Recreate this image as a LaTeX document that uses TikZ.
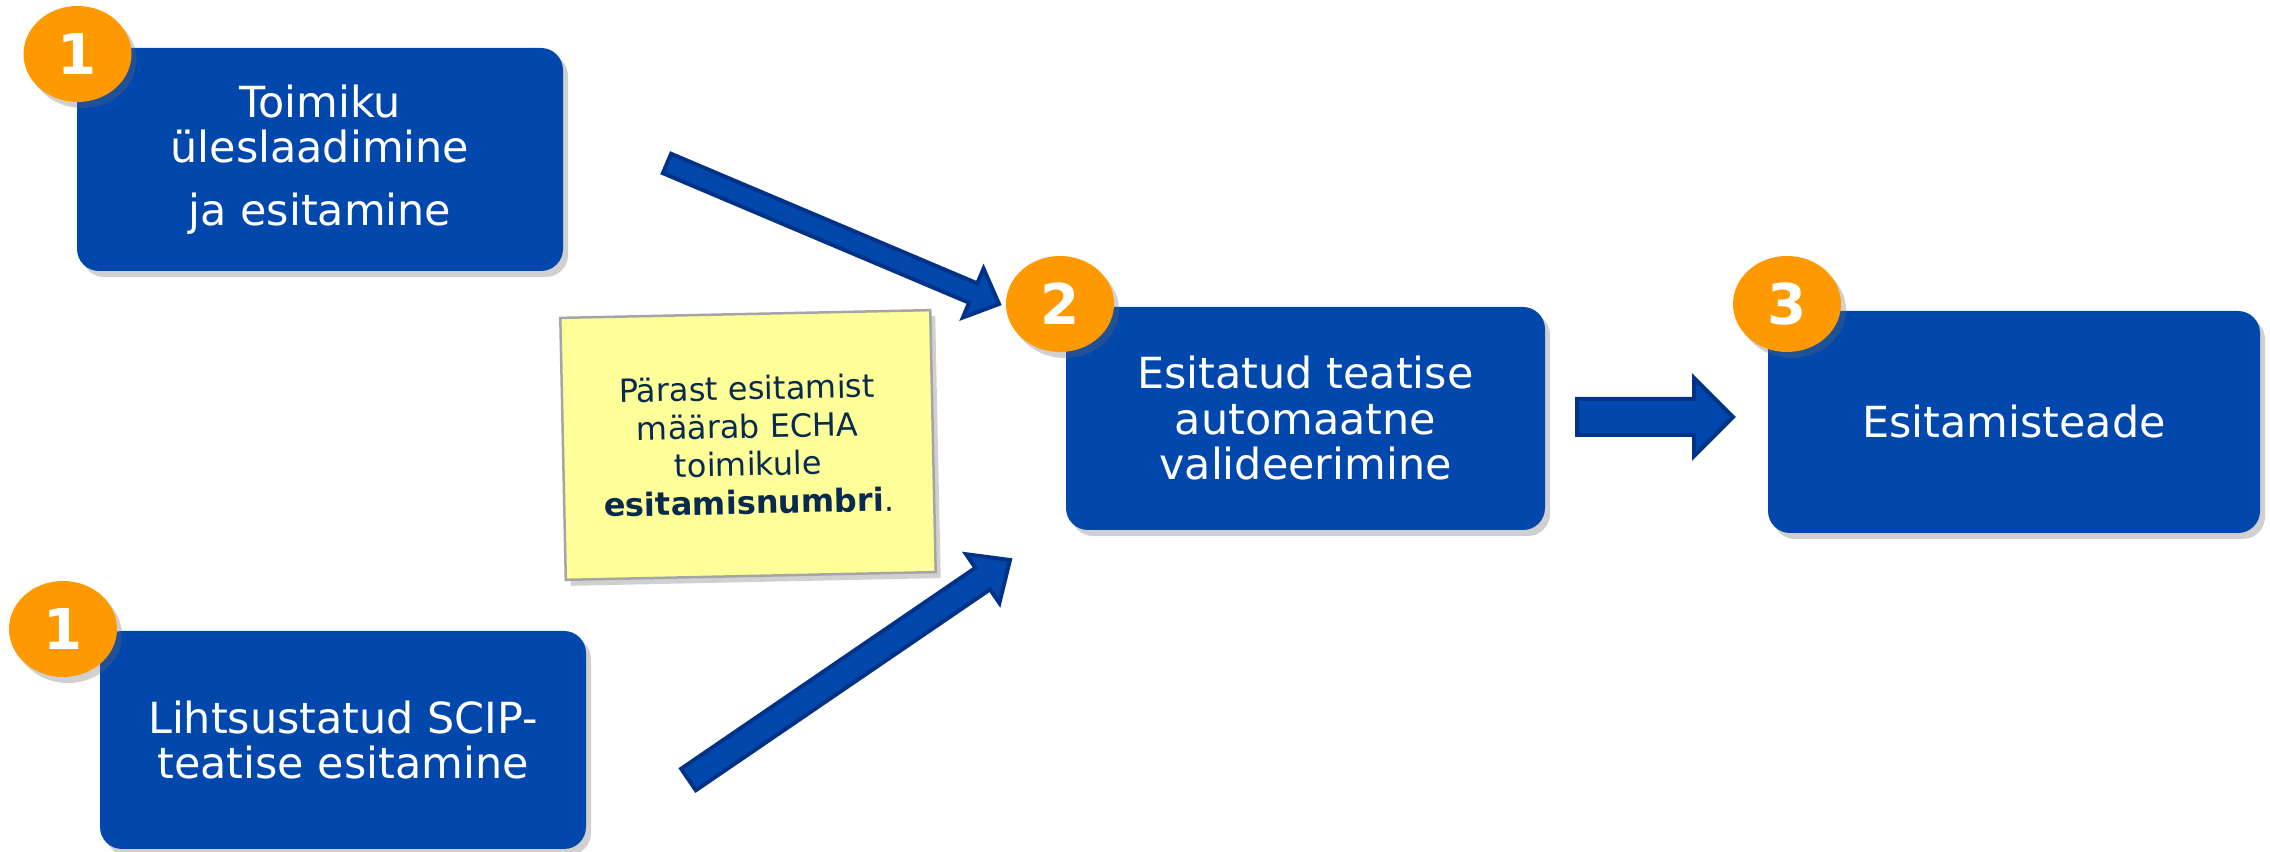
\documentclass[tikz,border=0pt]{standalone}
\usepackage{fontspec}
\setmainfont{DejaVu Sans}
\usetikzlibrary{shapes.geometric,calc,shadows}
\definecolor{boxblue}{RGB}{2,72,172}
\definecolor{arrowedge}{RGB}{0,50,135}
\definecolor{badgeorange}{RGB}{255,153,0}
\definecolor{noteyellow}{RGB}{255,255,153}
\definecolor{notetext}{RGB}{8,42,78}
\definecolor{notegray}{RGB}{165,165,165}
% block arrow: #1 tail, #2 tip, #3 half shaft, #4 half head, #5 head length
\newcommand{\blkarrow}[5]{%
  \coordinate (#1-#2-base) at ($(#2)!#5!(#1)$);
  \draw[blockarrow] ($(#1)!#3!90:(#2)$) -- ($(#1-#2-base)!#3!-90:(#1)$)
    -- ($(#1-#2-base)!#4!-90:(#1)$) -- (#2)
    -- ($(#1-#2-base)!#4!90:(#1)$) -- ($(#1-#2-base)!#3!90:(#1)$)
    -- ($(#1)!#3!-90:(#2)$) -- cycle;}
\begin{document}
\begin{tikzpicture}[x=0.1mm,y=-0.1mm,
  softshadow/.style={drop shadow={shadow xshift=0.5mm, shadow yshift=-0.6mm, opacity=0.3, fill=black!60}},
  stepbox/.style={rounded corners=2.2mm, fill=boxblue, text=white, align=center,
    font=\fontsize{12.2}{12.95}\selectfont, inner sep=0pt, softshadow},
  badge/.style={ellipse, fill=badgeorange, text=white,
    font=\fontsize{16}{16}\selectfont\bfseries,
    minimum width=10.8mm, minimum height=9.6mm, inner sep=0pt, softshadow},
  notebox/.style={fill=noteyellow, draw=notegray, line width=0.25mm, text=notetext,
    align=center, font=\fontsize{9.1}{10.8}\selectfont, inner sep=0pt, softshadow},
  blockarrow/.style={fill=boxblue, draw=arrowedge, line width=0.4mm, line join=miter}
]
\path[use as bounding box, fill=white] (0,0) rectangle (2270,852);

% boxes
\node[stepbox, minimum width=48.6mm, minimum height=22.3mm] (b1) at (320,159.5)
  {Toimiku\\üleslaadimine\\[5pt]ja esitamine};
\node[stepbox, minimum width=48.6mm, minimum height=21.8mm] (b1s) at (343,740)
  {Lihtsustatud SCIP-\\teatise esitamine};
\node[stepbox, minimum width=47.9mm, minimum height=22.3mm] (b2) at (1305.5,418.5)
  {Esitatud teatise\\automaatne\\valideerimine};
\node[stepbox, minimum width=49.2mm, minimum height=22.2mm] (b3) at (2014,422)
  {Esitamisteade};

% badges
\node[badge] (n1) at (77.5,54) {1};
\node[badge] (n1s) at (63,629) {1};
\node[badge] (n2) at (1060,304) {2};
\node[badge] (n3) at (1787,304) {3};

% note
\node[notebox, rotate=1.2, minimum width=37mm, minimum height=26.2mm] (note) at (748,445)
  {Pärast esitamist\\määrab ECHA\\toimikule\\\textbf{esitamisnumbri}.};

% arrows
\coordinate (t1) at (667,163.5);
\coordinate (h1) at (999,304);
\coordinate (t2) at (688.5,779.5);
\coordinate (h2) at (1010,560);
\coordinate (t3) at (1577,417);
\coordinate (h3) at (1733,417);
\blkarrow{t1}{h1}{1.05mm}{2.65mm}{2.8mm}
\blkarrow{t2}{h2}{1.3mm}{2.95mm}{3.3mm}
\blkarrow{t3}{h3}{1.8mm}{3.9mm}{3.9mm}
\end{tikzpicture}
\end{document}
